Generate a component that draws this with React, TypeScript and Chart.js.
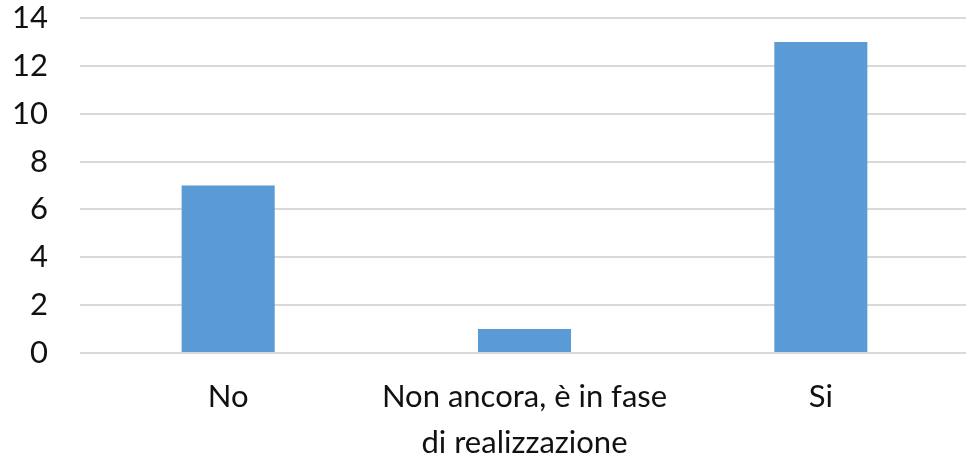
import React, { useEffect, useRef } from "react";
import { Chart, registerables } from "chart.js";

Chart.register(...registerables);

const categories: (string | string[])[] = ["No", ["Non ancora, è in fase", "di realizzazione"], "Si"];
const values: number[] = [7, 1, 13];
const yTicks: number[] = [0, 2, 4, 6, 8, 10, 12, 14];

export default function App() {
  const ref = useRef<HTMLCanvasElement | null>(null);
  useEffect(() => {
    if (!ref.current) return;
    const xFont = { family: "Lato", size: 31, lineHeight: 1.48 };
    const yFont = { family: "Lato", size: 31, lineHeight: 1.2 };
    const chart = new Chart(ref.current, {
      type: "bar",
      data: {
        labels: categories,
        datasets: [
          {
            data: values,
            backgroundColor: "#5B9BD5",
            borderWidth: 0,
            barPercentage: 0.314,
            categoryPercentage: 1,
          },
        ],
      },
      options: {
        animation: false,
        responsive: false,
        maintainAspectRatio: false,
        layout: { padding: { top: 18, right: 0, left: 0, bottom: 0 } },
        plugins: { legend: { display: false }, tooltip: { enabled: false } },
        scales: {
          x: {
            grid: { display: false, drawTicks: false },
            border: { display: false },
            ticks: { color: "#111", font: xFont, padding: 21, maxRotation: 0, autoSkip: false },
            afterFit: (axis: any) => {
              axis.height = 109;
              axis.paddingLeft = 0;
              axis.paddingRight = 0;
            },
          },
          y: {
            min: 0,
            max: 14,
            afterBuildTicks: (axis: any) => {
              axis.ticks = yTicks.map((v) => ({ value: v }));
            },
            grid: { color: "#D9D9D9", lineWidth: 2, drawTicks: false },
            border: { display: false },
            ticks: { color: "#111", font: yFont, padding: 32, autoSkip: false },
            afterFit: (axis: any) => {
              axis.width = 80;
              axis.paddingTop = 0;
              axis.paddingBottom = 0;
            },
          },
        },
      },
    });
    return () => chart.destroy();
  }, []);
  return (
    <div style={{ position: "fixed", left: 0, top: 0, width: 966, height: 454, overflow: "hidden", background: "#fff" }}>
      <canvas ref={ref} width={969} height={462} style={{ display: "block", width: 969, height: 462 }} />
    </div>
  );
}
